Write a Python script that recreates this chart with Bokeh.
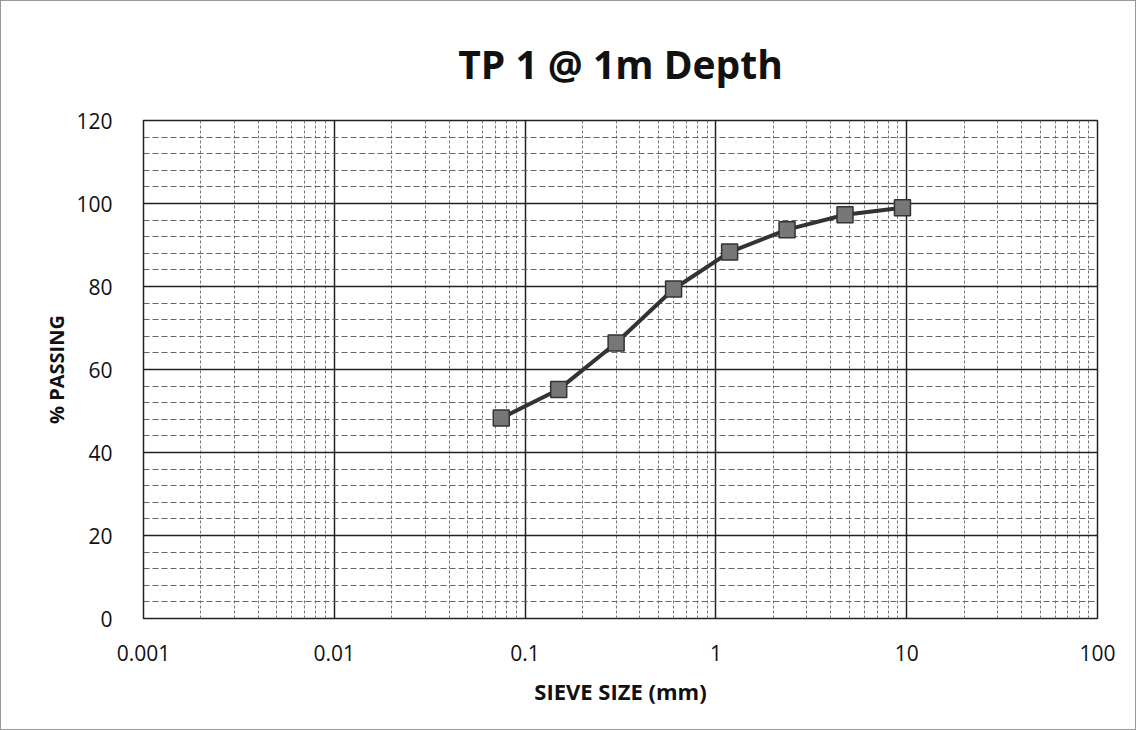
from bokeh.plotting import figure
from bokeh.models import FixedTicker, CustomJSTickFormatter, Range1d
from bokeh.embed import file_html
from bokeh.resources import INLINE

sieve_mm = [0.075, 0.15, 0.3, 0.6, 1.18, 2.36, 4.75, 9.5]
passing = [48.3, 55.2, 66.4, 79.4, 88.3, 93.7, 97.3, 99.0]

x_ticks = [0.001, 0.01, 0.1, 1, 10, 100]
y_ticks = [0, 20, 40, 60, 80, 100, 120]

x_minor = [m * d for d in [0.001, 0.01, 0.1, 1, 10] for m in range(2, 10)]
y_minor = [v for v in range(0, 121, 4) if v % 20 != 0]

FONT = "Open Sans"

p = figure(width=1136, height=730, x_axis_type="log",
           x_range=Range1d(0.001, 100), y_range=Range1d(0, 120),
           output_backend="svg", toolbar_location=None,
           min_border_left=142, min_border_right=40,
           min_border_top=119, min_border_bottom=113)

p.title.text = "TP 1 @ 1m Depth"
p.title.align = "center"
p.title.text_font = FONT
p.title.text_font_style = "bold"
p.title.text_font_size = "39px"
p.title.text_color = "#111111"
p.title.standoff = 62

p.xaxis.ticker = FixedTicker(ticks=x_ticks, minor_ticks=x_minor)
p.yaxis.ticker = FixedTicker(ticks=y_ticks, minor_ticks=y_minor)
p.xaxis.formatter = CustomJSTickFormatter(code="return tick.toString();")

for ax in (p.xaxis, p.yaxis):
    ax.axis_line_color = None
    ax.major_tick_line_color = None
    ax.minor_tick_line_color = None
    ax.major_label_text_font = FONT
    ax.major_label_text_font_size = "21px"
    ax.major_label_text_color = "#111111"
    ax.axis_label_text_font = FONT
    ax.axis_label_text_font_style = "bold"
    ax.axis_label_text_color = "#111111"

p.xaxis.axis_label = "SIEVE SIZE (mm)"
p.yaxis.axis_label = "% PASSING"
p.xaxis.axis_label_text_font_size = "22px"
p.yaxis.axis_label_text_font_size = "20px"
p.xaxis.major_label_standoff = 20
p.yaxis.major_label_standoff = 25
p.xaxis.axis_label_standoff = 12
p.yaxis.axis_label_standoff = 3

p.xgrid.grid_line_color = "#222222"
p.xgrid.grid_line_width = 1.5
p.xgrid.minor_grid_line_color = "#777777"
p.xgrid.minor_grid_line_dash = "3 2"
p.xgrid.minor_grid_line_width = 1

p.ygrid.grid_line_color = "#222222"
p.ygrid.grid_line_width = 1.5
p.ygrid.minor_grid_line_color = "#666666"
p.ygrid.minor_grid_line_dash = "6 3"
p.ygrid.minor_grid_line_width = 1

p.outline_line_color = "#222222"
p.outline_line_width = 1.5

p.line(sieve_mm, passing, line_color="#333333", line_width=4)
p.scatter(sieve_mm, passing, marker="square", size=16,
          fill_color="#777777", line_color="#333333", line_width=1.5)

p.styles = {"border": "1px solid #999999"}

open("out.html", "w").write(file_html(p, INLINE))
